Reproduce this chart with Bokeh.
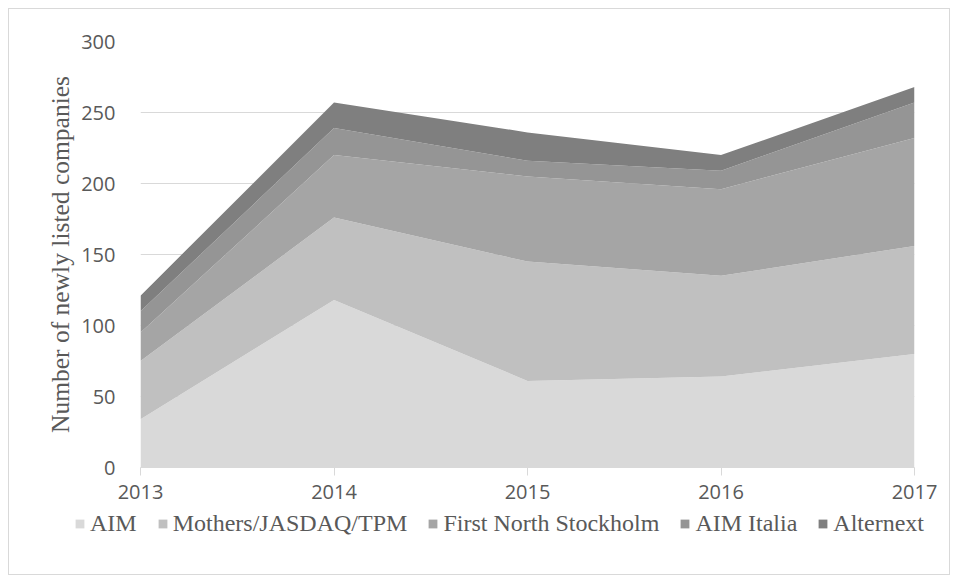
from bokeh.plotting import figure
from bokeh.models import Legend, LegendItem, FixedTicker, Range1d, ColumnDataSource, Spacer
from bokeh.layouts import column, row
from bokeh.embed import file_html
from bokeh.resources import INLINE

years = [2013, 2014, 2015, 2016, 2017]
series_names = ["AIM", "Mothers/JASDAQ/TPM", "First North Stockholm", "AIM Italia", "Alternext"]
aim = [34, 118, 61, 64, 80]
mothers = [41, 58, 84, 71, 76]
first_north = [20, 44, 60, 61, 76]
aim_italia = [15, 19, 11, 13, 25]
alternext = [11, 18, 20, 11, 11]
y_ticks = [0, 50, 100, 150, 200, 250, 300]

colors = ["#d9d9d9", "#c0c0c0", "#a5a5a5", "#959595", "#7f7f7f"]
border = "1px solid #d9d9d9"

keys = ["s0", "s1", "s2", "s3", "s4"]
src = ColumnDataSource(dict(x=years, s0=aim, s1=mothers, s2=first_north, s3=aim_italia, s4=alternext))

# main chart
p = figure(width=942, height=502, output_backend="svg", toolbar_location=None,
           x_range=Range1d(2013, 2017), y_range=Range1d(0, 300),
           min_border_left=131, min_border_right=37, min_border_top=32, min_border_bottom=44)
p.styles = {"border-top": border, "border-left": border, "border-right": border}
p.frame_align = False

renderers = p.varea_stack(stackers=keys, x="x", color=colors, source=src)

p.outline_line_color = None
p.xgrid.grid_line_color = None
p.ygrid.grid_line_color = "#d9d9d9"
p.ygrid.grid_line_width = 1
p.ygrid.level = "underlay"

p.yaxis.ticker = FixedTicker(ticks=y_ticks)
p.xaxis.ticker = FixedTicker(ticks=years)
p.yaxis.axis_line_color = None
p.yaxis.major_tick_line_color = None
p.yaxis.minor_tick_line_color = None
p.yaxis.major_label_standoff = 19
p.xaxis.axis_line_color = "#d9d9d9"
p.xaxis.major_tick_line_color = "#d9d9d9"
p.xaxis.major_tick_out = 8
p.xaxis.major_tick_in = 0
p.xaxis.minor_tick_line_color = None
p.xaxis.major_label_standoff = 9
for ax in (p.xaxis, p.yaxis):
    ax.major_label_text_font = "Open Sans"
    ax.major_label_text_font_size = "20px"
    ax.major_label_text_color = "#595959"

p.yaxis.axis_label = "Number of newly listed companies"
p.yaxis.axis_label_text_font = "Liberation Serif"
p.yaxis.axis_label_text_font_size = "25.5px"
p.yaxis.axis_label_text_font_style = "normal"
p.yaxis.axis_label_text_color = "#595959"
p.yaxis.axis_label_standoff = 3

# legend strip below the chart
pl = figure(width=942, height=65, output_backend="svg", toolbar_location=None,
            x_axis_type=None, y_axis_type=None,
            x_range=Range1d(0, 1), y_range=Range1d(0, 1),
            min_border_left=0, min_border_right=0, min_border_top=0, min_border_bottom=0)
pl.styles = {"border-left": border, "border-right": border, "border-bottom": border}
pl.frame_align = False
pl.outline_line_color = None
pl.grid.visible = False
# zero-height swatch renderers, used only to draw the legend keys
swatches = [pl.varea(x=[0, 1], y1=[0, 0], y2=[0, 0], fill_color=c) for c in colors]

items = [LegendItem(label=n, renderers=[r]) for n, r in zip(series_names, swatches)]
legend = Legend(items=items, orientation="horizontal", location=(65, 38),
                glyph_width=11, glyph_height=11, label_standoff=5, spacing=20,
                padding=0, margin=0, border_line_color=None, background_fill_alpha=0,
                label_text_font="Liberation Serif", label_text_font_size="24px",
                label_text_color="#595959")
pl.add_layout(legend, "center")

layout = column(Spacer(height=8), row(Spacer(width=8), column(p, pl, spacing=0)), spacing=0)
open("out.html", "w").write(file_html(layout, INLINE))
